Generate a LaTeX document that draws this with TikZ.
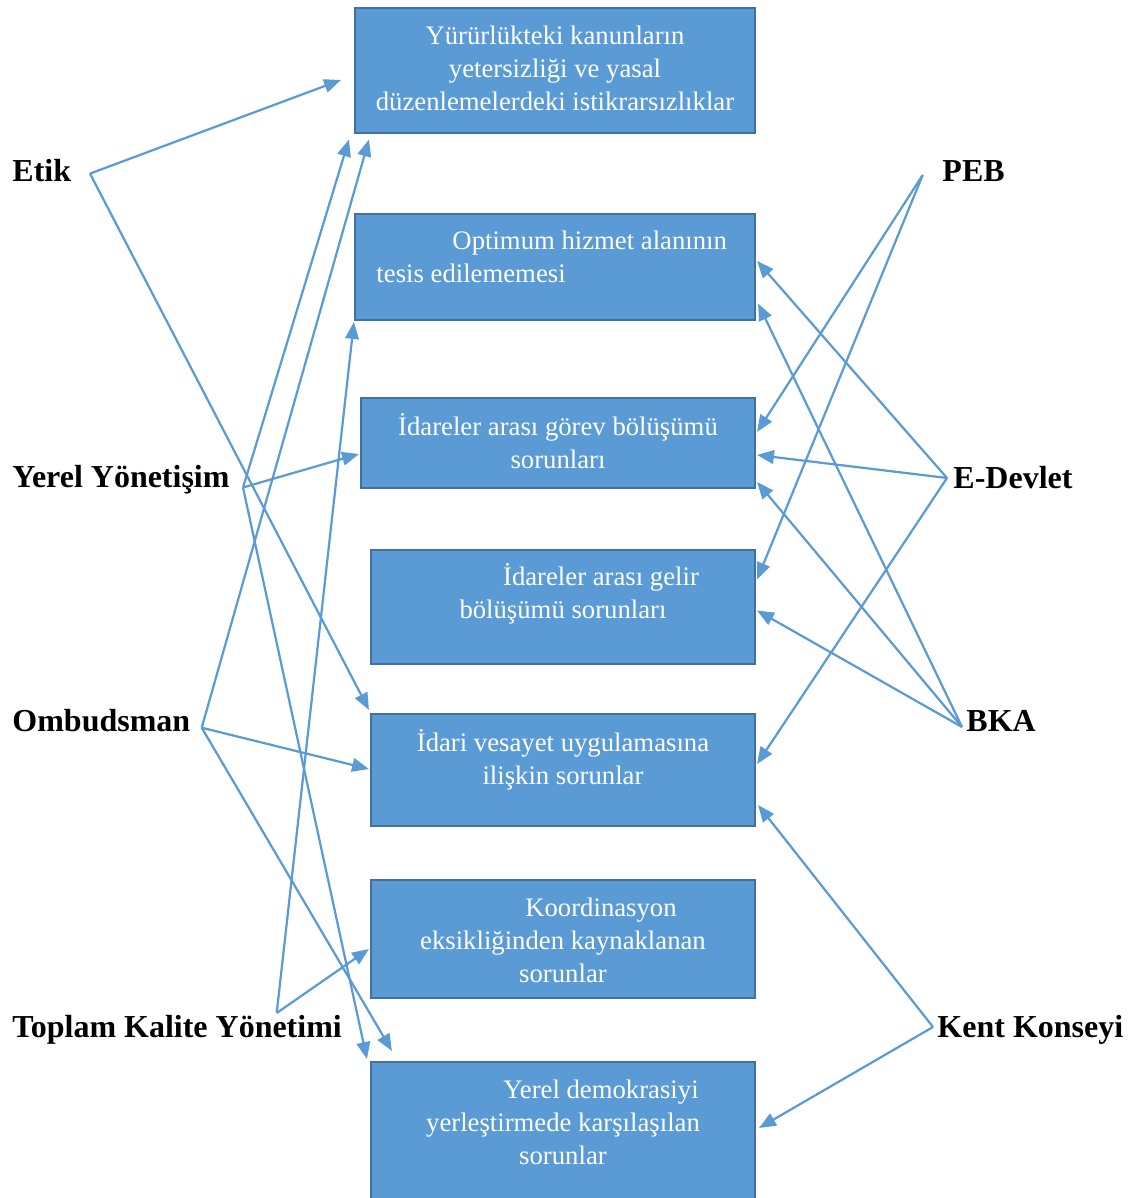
\documentclass[tikz,border=0pt]{standalone}
\usepackage{fontspec}
\setmainfont{Liberation Serif}
\usetikzlibrary{arrows.meta}
\definecolor{boxfill}{HTML}{5B9BD5}
\definecolor{boxline}{HTML}{41719C}
\definecolor{linkblue}{HTML}{5B9BD5}

\begin{document}
\begin{tikzpicture}[x=0.015cm, y=-0.015cm,
    problem/.style={draw=boxline, line width=0.9pt, fill=boxfill, inner sep=0pt},
    problemtext/.style={text=white, inner sep=0pt, font=\fontsize{11.4}{14.1}\selectfont},
    method/.style={anchor=base west, inner sep=0pt, font=\fontsize{13.65}{16}\selectfont\bfseries},
    link/.style={draw=linkblue, line width=0.95pt, -{Triangle[length=7.2pt,width=5.8pt]}}]
    \useasboundingbox (0,0) rectangle (1131,1198);

    % Problem boxes
    \node[problem, minimum width=6cm, minimum height=1.875cm] (b1) at (555,70.5) {};
    \node[problem, minimum width=6cm, minimum height=1.59cm] (b2) at (555,267) {};
    \node[problem, minimum width=5.91cm, minimum height=1.35cm] (b3) at (558,443) {};
    \node[problem, minimum width=5.76cm, minimum height=1.71cm] (b4) at (563,607) {};
    \node[problem, minimum width=5.76cm, minimum height=1.68cm] (b5) at (563,770) {};
    \node[problem, minimum width=5.76cm, minimum height=1.77cm] (b6) at (563,939) {};
    \node[problem, minimum width=5.76cm, minimum height=2.19cm] (b7) at (563,1135) {};

    % Box texts
    \node[problemtext, align=center] (t1) at (555,68) {Yürürlükteki kanunların\\yetersizliği ve yasal\\düzenlemelerdeki istikrarsızlıklar};
    \node[problemtext, align=left, anchor=west] (t2) at (376,257) {\hspace*{1.14cm}Optimum hizmet alanının\\tesis edilememesi};
    \node[problemtext, align=center] (t3) at (558,441) {İdareler arası görev bölüşümü\\sorunları};
    \node[problemtext, align=center] (t4) at (563,594) {\hspace*{1.14cm}İdareler arası gelir\\bölüşümü sorunları};
    \node[problemtext, align=center] (t5) at (563,760) {İdari vesayet uygulamasına\\ilişkin sorunlar};
    \node[problemtext, align=center] (t6) at (563,940) {\hspace*{1.14cm}Koordinasyon\\eksikliğinden kaynaklanan\\sorunlar};
    \node[problemtext, align=center] (t7) at (563,1122) {\hspace*{1.14cm}Yerel demokrasiyi\\yerleştirmede karşılaşılan\\sorunlar};

    % Left labels
    \node[method] (etik) at (12,181.5) {Etik};
    \node[method] (yy) at (12,487.5) {Yerel Yönetişim};
    \node[method] (omb) at (12,731.5) {Ombudsman};
    \node[method] (tky) at (12,1037.5) {Toplam Kalite Yönetimi};

    % Right labels
    \node[method] (peb) at (942,182) {PEB};
    \node[method] (edev) at (953,488) {E-Devlet};
    \node[method] (bka) at (966,731) {BKA};
    \node[method] (kk) at (937,1037.5) {Kent Konseyi};

    % Line origins
    \coordinate (etikP) at (90,173.6);
    \coordinate (yyP) at (243,487.5);
    \coordinate (ombP) at (201.7,727.7);
    \coordinate (tkyP) at (276.7,1013);
    \coordinate (pebP) at (922.7,175);
    \coordinate (edevP) at (947,478);
    \coordinate (bkaP) at (962,727);
    \coordinate (kkP) at (933,1027);

    % Arrows from the left
    \draw[link] (etikP) -- ([shift={(-13,9.5)}]b1.west);
    \draw[link] (etikP) -- ([shift={(-1,-3)}]b5.north west);
    \draw[link] (yyP) -- ([shift={(-5,5.5)}]b1.south west);
    \draw[link] (yyP) -- ([shift={(-1,11)}]b3.west);
    \draw[link] (yyP) -- ([shift={(-3,-2)}]b7.north west);
    \draw[link] (ombP) -- ([shift={(15,5.5)}]b1.south west);
    \draw[link] (ombP) -- ([shift={(-1,-1)}]b5.west);
    \draw[link] (ombP) -- ([shift={(22,-10)}]b7.north west);
    \draw[link] (tkyP) -- ([shift={(0,1)}]b2.south west);
    \draw[link] (tkyP) -- ([shift={(-1,10)}]b6.west);

    % Arrows from the right
    \draw[link] (pebP) -- ([shift={(1,-11)}]b3.east);
    \draw[link] (pebP) -- ([shift={(1,-27.5)}]b4.east);
    \draw[link] (edevP) -- ([shift={(1,-6)}]b2.east);
    \draw[link] (edevP) -- ([shift={(1,12)}]b3.east);
    \draw[link] (edevP) -- ([shift={(1,-6)}]b5.east);
    \draw[link] (bkaP) -- ([shift={(2,36.5)}]b2.east);
    \draw[link] (bkaP) -- ([shift={(1,39)}]b3.east);
    \draw[link] (bkaP) -- ([shift={(1,3.5)}]b4.east);
    \draw[link] (kkP) -- ([shift={(2,35)}]b5.east);
    \draw[link] (kkP) -- ([shift={(3,67)}]b7.north east);
\end{tikzpicture}
\end{document}
